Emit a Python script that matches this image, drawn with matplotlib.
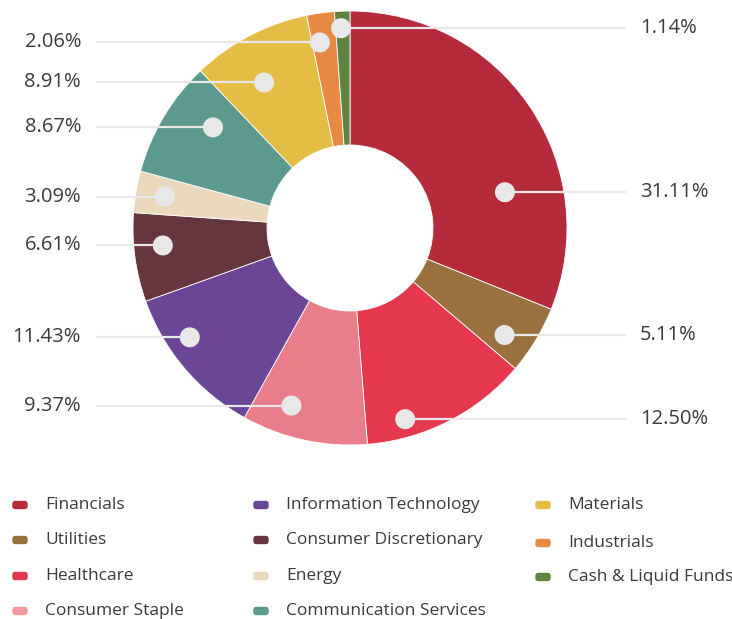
import matplotlib
matplotlib.use("Agg")
import numpy as np
import matplotlib.pyplot as plt
from matplotlib.patches import Circle, FancyBboxPatch

# sector weights, clockwise from 12 o'clock
sectors = ["Financials", "Utilities", "Healthcare", "Consumer Staple",
           "Information Technology", "Consumer Discretionary", "Energy",
           "Communication Services", "Materials", "Industrials",
           "Cash & Liquid Funds"]
weights = [31.11, 5.11, 12.50, 9.37, 11.43, 6.61, 3.09, 8.67, 8.91, 2.06, 1.14]
colors = ["#b52b3c", "#98713e", "#e5384e", "#e97d89", "#6b4697", "#65363e",
          "#ead8bf", "#5c998f", "#e4be44", "#e78844", "#5f8442"]
legend_colors = colors[:3] + ["#f49ba0"] + colors[4:]

W, H = 732, 619
CX, CY = 350, H - 228
R_OUT, R_IN = 217, 83
DOT_R = 188
# label anchor tweaks (angle shift in degrees, radius) to mimic the
# collision-avoiding layout of the original chart
anchor_adj = {"Financials": (-21, 159), "Healthcare": (-11, 199),
              "Consumer Staple": (-6, 187), "Information Technology": (-6, 194),
              "Communication Services": (-5.5, 170), "Materials": (3, 169),
              "Consumer Discretionary": (-2.5, 188), "Utilities": (-3.5, 188),
              "Industrials": (1.4, 188), "Cash & Liquid Funds": (0.5, 200)}

fig = plt.figure(figsize=(W / 100, H / 100), dpi=100)
ax = fig.add_axes([0, 0, 1, 1])
plt.rcParams['font.family'] = ['Open Sans', 'DejaVu Sans']

wedges, _ = ax.pie(weights, colors=colors, startangle=90, counterclock=False,
                   center=(CX, CY), radius=R_OUT,
                   wedgeprops=dict(width=R_OUT - R_IN, edgecolor="white",
                                   linewidth=0.6))

for name, w, val in zip(sectors, wedges, weights):
    shift, rad = anchor_adj.get(name, (0, DOT_R))
    ang = np.deg2rad((w.theta1 + w.theta2) / 2 + shift)
    x = CX + rad * np.cos(ang)
    y = CY + rad * np.sin(ang)
    if x >= CX - 20:
        ax.plot([x, 625], [y, y], color="#e8e8e8", lw=1.6, zorder=3)
        ax.text(640, y, f"{val:.2f}%", ha="left", va="center",
                fontsize=14.5, color="#3a3a3a")
    else:
        ax.plot([97, x], [y, y], color="#e8e8e8", lw=1.6, zorder=3)
        ax.text(81, y, f"{val:.2f}%", ha="right", va="center",
                fontsize=14.5, color="#3a3a3a")
    ax.add_patch(Circle((x, y), 10, facecolor="#e8e8e8", edgecolor="none",
                        zorder=4))

# legend, three columns laid out by hand
col_x = [12, 253, 535]
col_rows = [[505, 540, 576, 611], [505, 540, 576, 611], [505, 543, 577]]
idx = 0
for cx, rows in zip(col_x, col_rows):
    for ry in rows:
        y = H - ry
        ax.add_patch(FancyBboxPatch((cx + 3.5, y - 1), 9, 2,
                                    boxstyle="round,pad=3.2",
                                    facecolor=legend_colors[idx],
                                    edgecolor="none"))
        ax.text(cx + 33, y, sectors[idx], ha="left", va="center",
                fontsize=12.5, color="#3a3a3a")
        idx += 1

ax.set_xlim(0, W)
ax.set_ylim(0, H)
ax.set_aspect("equal")
ax.axis("off")
fig.savefig("out.png", dpi=100)
